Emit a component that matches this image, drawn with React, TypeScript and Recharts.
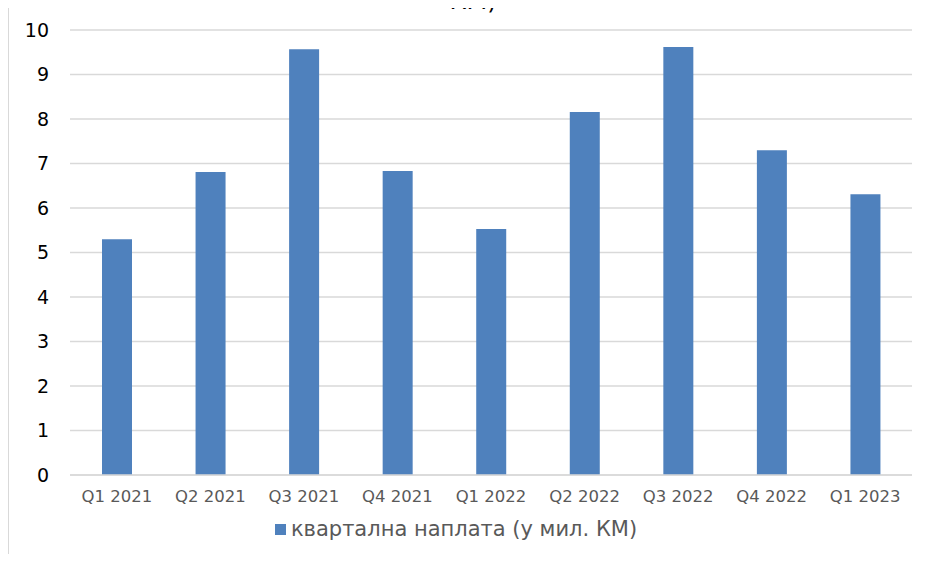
import React from 'react'
import { BarChart, Bar, XAxis, YAxis, CartesianGrid, Legend } from 'recharts'

const quarters = ['Q1 2021', 'Q2 2021', 'Q3 2021', 'Q4 2021', 'Q1 2022', 'Q2 2022', 'Q3 2022', 'Q4 2022', 'Q1 2023']
const revenue = [5.3, 6.81, 9.57, 6.83, 5.53, 8.16, 9.62, 7.3, 6.31]
const yTicks = [0, 1, 2, 3, 4, 5, 6, 7, 8, 9, 10]
const seriesName = 'квартална наплата (у мил. КМ)'

const data = quarters.map((q, i) => ({ name: q, value: revenue[i] }))

const font = 'Verdana, "DejaVu Sans", sans-serif'

function LegendBox() {
  return (
    <div style={{ display: 'flex', justifyContent: 'center', alignItems: 'center', fontFamily: font, fontSize: 21, color: '#595959' }}>
      <span style={{ display: 'inline-block', width: 11, height: 11, background: '#4f81bd', marginRight: 5 }} />
      <span>{seriesName}</span>
    </div>
  )
}

export default function App() {
  return (
    <div style={{ position: 'relative', margin: -8, width: 933, height: 562, overflow: 'hidden', background: '#fff' }}>
      <div style={{ position: 'absolute', left: 8, top: 7, right: 0, height: 1, background: '#d9d9d9' }} />
      <div style={{ position: 'absolute', left: 8, top: 7, bottom: 0, width: 1, background: '#d9d9d9' }} />
      <div style={{ position: 'absolute', left: 0, width: 946, top: -11, lineHeight: '24px', textAlign: 'center', fontFamily: font, fontSize: 24, color: '#000' }}>КМ)</div>
      <BarChart width={933} height={562} data={data} margin={{ top: 30, right: 21, left: 0, bottom: 21 }}>
        <CartesianGrid vertical={false} stroke="#d9d9d9" strokeWidth={1.5} />
        <XAxis
          dataKey="name"
          height={42}
          tickLine={false}
          tickSize={0}
          tickMargin={15}
          axisLine={{ stroke: '#d9d9d9', strokeWidth: 1.5 }}
          tick={{ fill: '#595959', fontSize: 16.5, fontFamily: font }}
        />
        <YAxis
          width={70}
          domain={[0, 10]}
          ticks={yTicks}
          tickLine={false}
          tickSize={0}
          tickMargin={21}
          axisLine={false}
          tick={{ fill: '#000', fontSize: 19, fontFamily: font }}
        />
        <Legend verticalAlign="bottom" content={<LegendBox />} />
        <Bar dataKey="value" name={seriesName} fill="#4f81bd" barSize={30} isAnimationActive={false} />
      </BarChart>
    </div>
  )
}
